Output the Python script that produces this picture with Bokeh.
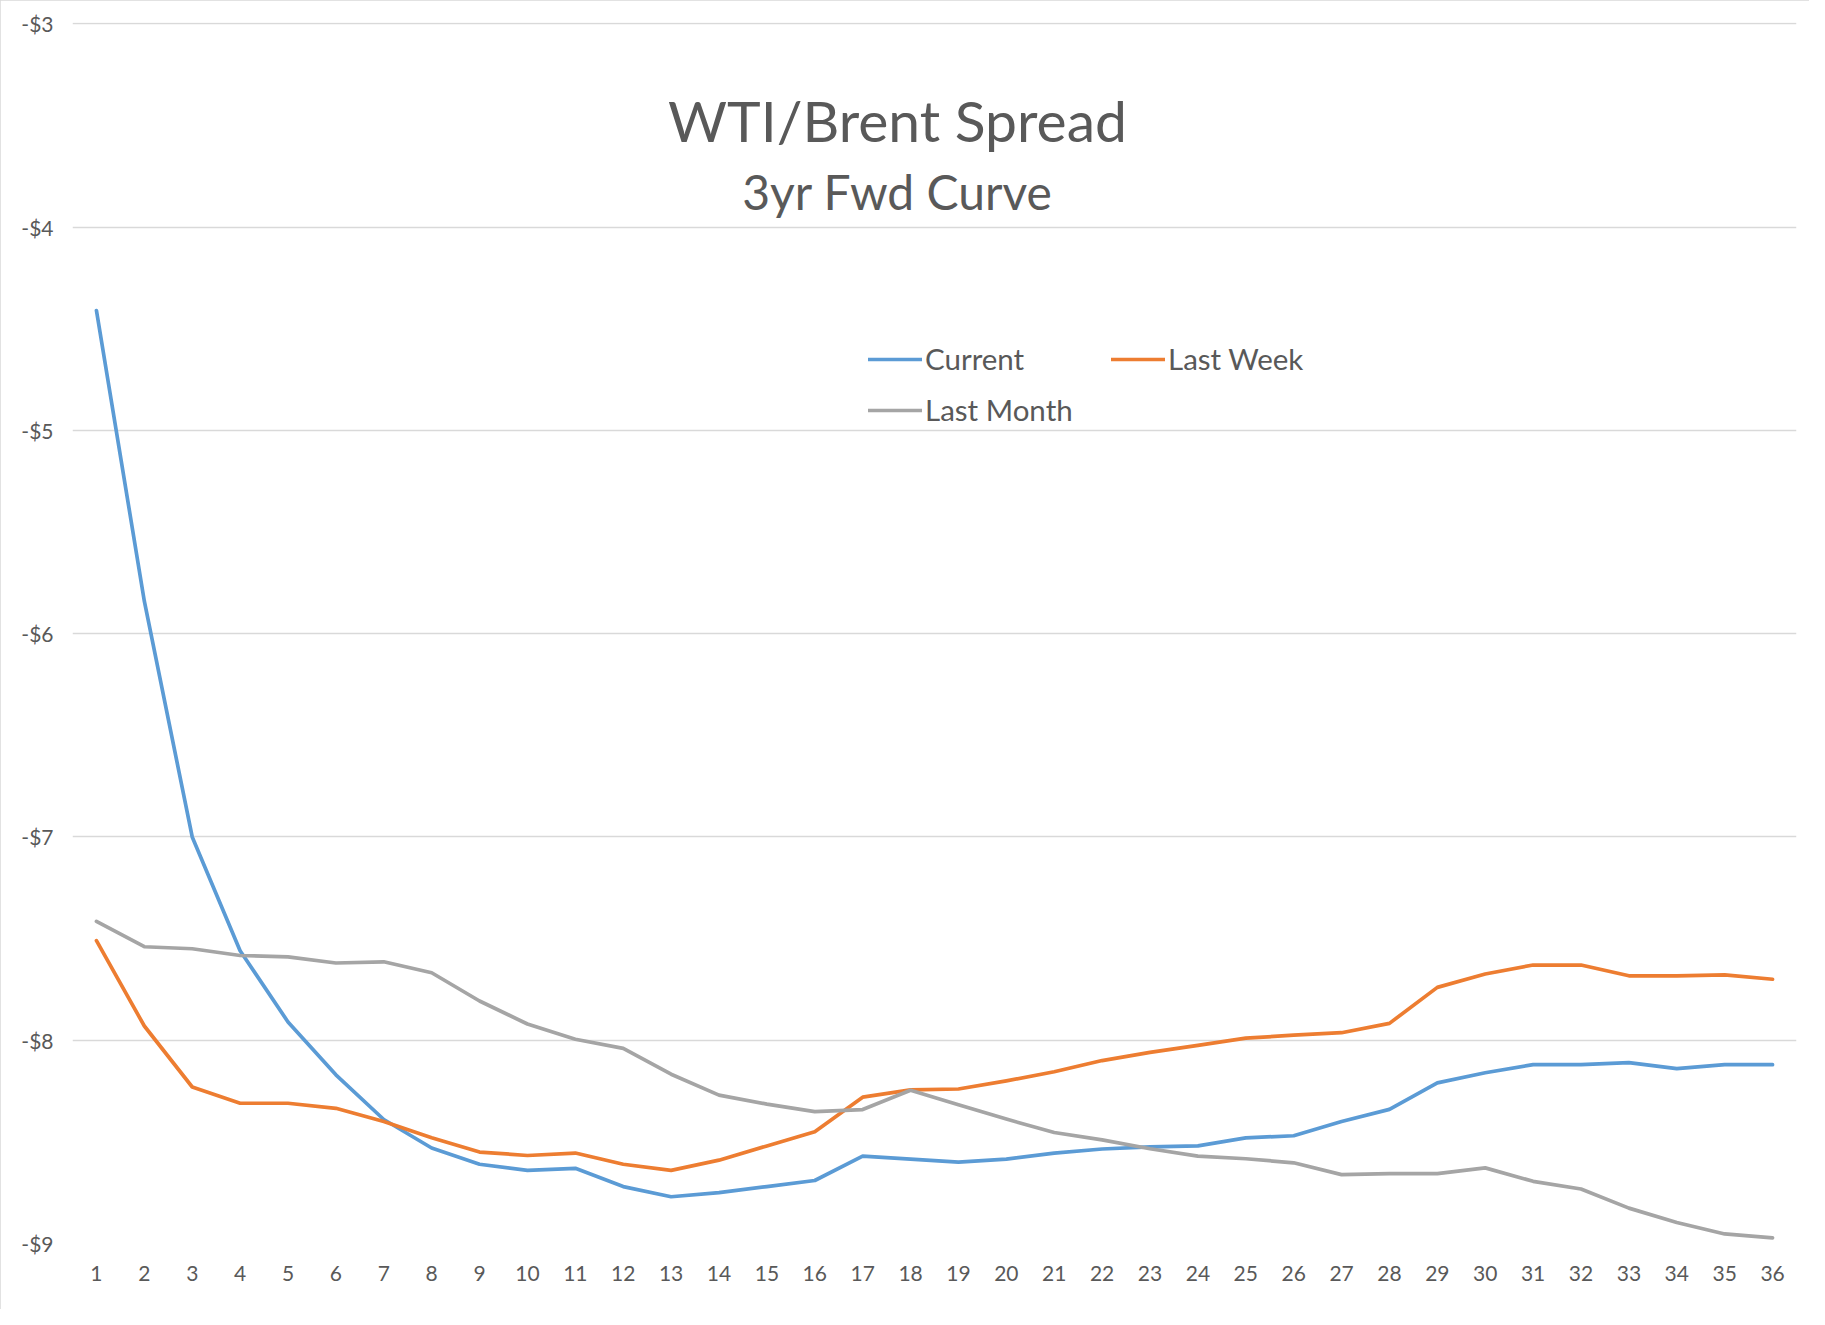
from bokeh.plotting import figure
from bokeh.models import FactorRange, Range1d, FixedTicker, Label, Legend, LegendItem
from bokeh.embed import file_html
from bokeh.resources import INLINE

# ---------------- data ----------------
months = [str(i) for i in range(1, 37)]

current = [-4.41, -5.84, -7.00, -7.56, -7.91, -8.17, -8.39, -8.53, -8.61, -8.64,
           -8.63, -8.72, -8.77, -8.75, -8.72, -8.69, -8.57, -8.585, -8.60, -8.585,
           -8.555, -8.535, -8.525, -8.52, -8.48, -8.47, -8.40, -8.34, -8.21, -8.16,
           -8.12, -8.12, -8.11, -8.14, -8.12, -8.12]

last_week = [-7.51, -7.93, -8.23, -8.31, -8.31, -8.335, -8.40, -8.48, -8.55, -8.567,
             -8.555, -8.61, -8.64, -8.59, -8.52, -8.45, -8.28, -8.244, -8.24, -8.20,
             -8.155, -8.10, -8.06, -8.025, -7.99, -7.975, -7.963, -7.917, -7.74, -7.674,
             -7.63, -7.63, -7.683, -7.683, -7.678, -7.70]

last_month = [-7.415, -7.54, -7.55, -7.583, -7.59, -7.62, -7.614, -7.668, -7.807, -7.92,
              -7.995, -8.04, -8.167, -8.27, -8.314, -8.351, -8.341, -8.246, -8.317, -8.388,
              -8.454, -8.49, -8.534, -8.57, -8.583, -8.603, -8.661, -8.656, -8.656, -8.628,
              -8.694, -8.732, -8.826, -8.897, -8.953, -8.972]

series_names = ["Current", "Last Week", "Last Month"]
series_colors = ["#5B9BD5", "#ED7D31", "#A5A5A5"]

y_ticks = [-9, -8, -7, -6, -5, -4, -3]
y_tick_labels = ["-$9", "-$8", "-$7", "-$6", "-$5", "-$4", "-$3"]

title_text = "WTI/Brent Spread"
subtitle_text = "3yr Fwd Curve"

FONT = "Lato"
TEXT_COLOR = "#595959"

# ---------------- figure ----------------
p = figure(width=1809, height=1309,
           x_range=FactorRange(factors=months), y_range=Range1d(-9, -2.993),
           output_backend="svg", toolbar_location=None, title=None,
           min_border_left=72, min_border_right=13, min_border_top=22, min_border_bottom=66)

p.styles = {"outline": "2px solid #d9d9d9", "outline-offset": "-2px"}

p.outline_line_color = None
p.background_fill_color = "white"
p.border_fill_color = "white"

p.xgrid.visible = False
p.ygrid.grid_line_color = "#d9d9d9"
p.ygrid.grid_line_width = 1.5

p.yaxis.ticker = FixedTicker(ticks=y_ticks)
p.yaxis.major_label_overrides = dict(zip(y_ticks, y_tick_labels))

for ax in (p.xaxis[0], p.yaxis[0]):
    ax.axis_line_color = None
    ax.major_tick_line_color = None
    ax.minor_tick_line_color = None
    ax.major_label_text_font = FONT
    ax.major_label_text_color = TEXT_COLOR

p.xaxis.major_label_text_font_size = "21px"
p.xaxis.major_label_standoff = 16
p.yaxis.major_label_text_font_size = "21px"
p.yaxis.major_label_standoff = 13

renderers = []
for vals, name, col in zip([current, last_week, last_month], series_names, series_colors):
    r = p.line(months, vals, line_color=col, line_width=3.7, line_join="round", line_cap="round")
    renderers.append(r)

legend = Legend(items=[LegendItem(label=n, renderers=[r]) for n, r in zip(series_names, renderers)],
                location=(796, 816), orientation="horizontal", ncols=2,
                glyph_width=54, glyph_height=34, label_height=34, label_width=170,
                label_standoff=3, spacing=16, padding=0, margin=0,
                border_line_color=None, background_fill_alpha=0,
                label_text_font=FONT, label_text_font_size="29.5px", label_text_color=TEXT_COLOR)
p.add_layout(legend)

p.add_layout(Label(x=825, y=1124, x_units="screen", y_units="screen", text=title_text,
                   text_align="center", text_baseline="alphabetic",
                   text_font=FONT, text_font_size="57px", text_color=TEXT_COLOR))
p.add_layout(Label(x=825, y=1052, x_units="screen", y_units="screen", text=subtitle_text,
                   text_align="center", text_baseline="alphabetic",
                   text_font=FONT, text_font_size="48px", text_color=TEXT_COLOR))

open("out.html", "w").write(file_html(p, INLINE))
